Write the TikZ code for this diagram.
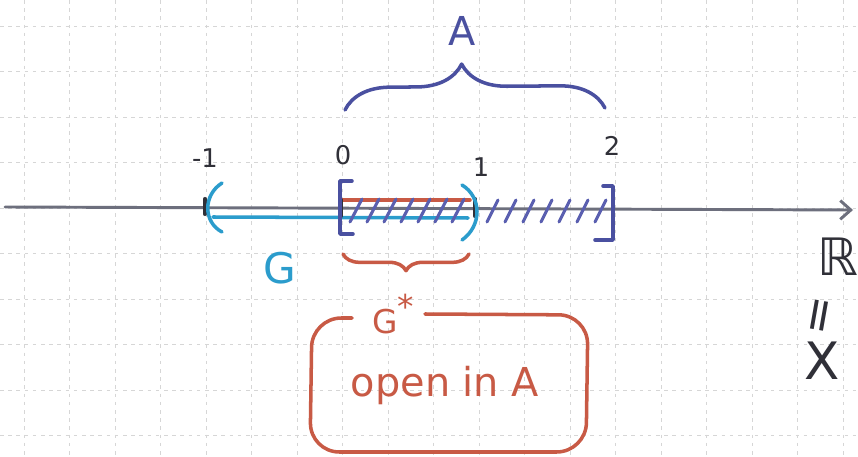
\documentclass[tikz,border=0pt]{standalone}
\usepackage{fontspec}
\setmainfont{DejaVu Sans}
\usetikzlibrary{decorations.pathreplacing,arrows.meta}
\definecolor{gridc}{HTML}{D6D6D6}
\definecolor{axisc}{HTML}{6D6F7D}
\definecolor{navy}{HTML}{4A50A0}
\definecolor{hatchc}{HTML}{5A5FB0}
\definecolor{cyanpen}{HTML}{2B9CCC}
\definecolor{redpen}{HTML}{C85A45}
\definecolor{inkc}{HTML}{303038}
\begin{document}
\begin{tikzpicture}[x=0.03cm,y=-0.03cm,
  gridline/.style={gridc,line width=0.6pt,dash pattern=on 3pt off 4pt},
  pen/.style={line width=3pt,line cap=round,line join=round},
  axisline/.style={pen,axisc,line width=2.5pt},
  navypen/.style={pen,navy},
  hatchpen/.style={pen,hatchc,line width=2.6pt},
  cyanp/.style={pen,cyanpen},
  redp/.style={pen,redpen},
  inkp/.style={pen,inkc,line width=3.5pt},
  numlabel/.style={inkc,font=\fontsize{22}{24}\selectfont,inner sep=0pt},
  biglabel/.style={font=\fontsize{34}{38}\selectfont,inner sep=0pt}]
\useasboundingbox (0,0) rectangle (858,457);
\fill[white] (0,0) rectangle (858,457);
% grid paper
\foreach \i in {0,...,18} \draw[gridline] ({24+45.5*\i},0) -- ({24+45.5*\i},457);
\foreach \j in {0,...,9} \draw[gridline] (0,{26+45.5*\j}) -- (858,{26+45.5*\j});
% axis
\coordinate (axL) at (5,207);
\coordinate (axR) at (853,210);
\draw[axisline,-{Straight Barb[length=9pt,width=16pt,line width=2.5pt]}] (axL) -- (axR);
% points
\coordinate (pm1) at (205,208);
\coordinate (p0) at (340,208);
\coordinate (p1) at (474,208);
\coordinate (p2) at (613,209);
% G (cyan) interval line
\draw[cyanp] (213,217) -- (468,218);
% red line of G*
\draw[redp] (342,200) -- (470,200);
% hatches on A
\foreach \x in {350,367,...,460} \draw[hatchpen] (\x,222) -- ++(12,-23);
\foreach \x in {487,505,...,595} \draw[hatchpen] (\x,222) -- ++(11,-22);
% black ticks
\draw[inkp] (205,199) -- (205,214);
\draw[inkp] (341,200) -- (341,216);
\draw[inkp] (475,199) -- (475,216);
% brackets of A
\draw[navypen] (352,181) -- (340,181) -- (340,234) -- (353,234);
\draw[navypen] (603,186) -- (613,186) -- (613,240) -- (595,240);
% parentheses of G
\draw[cyanp] (222,183) .. controls (203,195) and (203,222) .. (222,232);
\draw[cyanp] (462,185) .. controls (482,197) and (482,226) .. (462,240);
% number labels
\node[numlabel] (lm1) at (205,158) {-1};
\node[numlabel] (l0) at (343,155) {0};
\node[numlabel] (l1) at (481,167) {1};
\node[numlabel] (l2) at (612,146) {2};
% brace A
\coordinate (bAl) at (345,110);
\coordinate (bAr) at (605,108);
\draw[navypen,decorate,decoration={brace,amplitude=1.35cm,aspect=0.45}] (bAl) -- (bAr);
\node[biglabel,navy] (A) at (462,31) {A};
% G label
\node[biglabel,cyanpen,font=\fontsize{36}{40}\selectfont] (G) at (280,268) {G};
% brace G*
\coordinate (bGl) at (343,254);
\coordinate (bGr) at (469,254);
\draw[redp,decorate,decoration={brace,amplitude=0.5cm,mirror}] (bGl) -- (bGr);
\node[redpen,font=\fontsize{28}{30}\selectfont,inner sep=0pt] (Gs) at (393,314) {G\raisebox{0.45em}{*}};
% open in A box
\draw[redp,rounded corners=25pt] (352,318) -- (312,318) -- (310,452) -- (586,452) -- (588,315) -- (425,314);
\node[biglabel,redpen] (open) at (445,386) {open in A};
% R = X
\node[inkc,font=\fontsize{44}{48}\selectfont,inner sep=0pt] (R) at (838,257) {ℝ};
\node[inkc,font=\fontsize{40}{44}\selectfont,inner sep=0pt,rotate=80] (eq) at (823,316) {=};
\node[inkc,font=\fontsize{44}{48}\selectfont,inner sep=0pt] (X) at (822,361) {X};
\end{tikzpicture}
\end{document}
